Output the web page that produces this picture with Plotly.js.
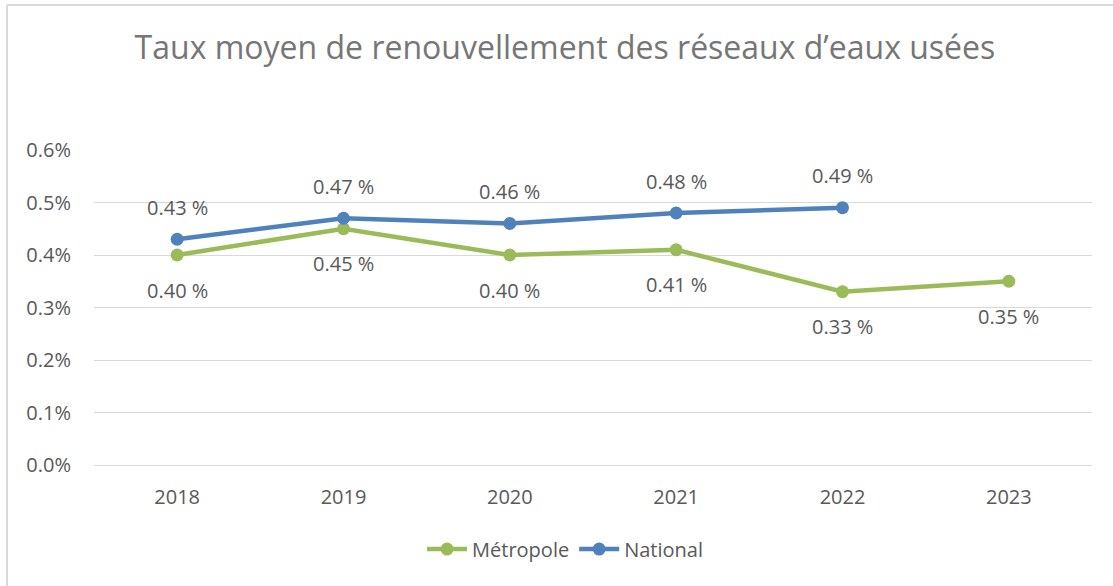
<!DOCTYPE html>
<html>
<head>
<meta charset="utf-8">
<script src="https://cdn.plot.ly/plotly-3.0.1.min.js"></script>
<style>
  html, body { margin: 0; padding: 0; background: #fff; }
  #chart { width: 1113px; height: 586px; }
</style>
</head>
<body>
<div id="chart"></div>
<script>
const years = ['2018', '2019', '2020', '2021', '2022', '2023'];
const metropole = [0.40, 0.45, 0.40, 0.41, 0.33, 0.35];
const national = [0.43, 0.47, 0.46, 0.48, 0.49, null];
const metropoleLabels = ['0.40 %', '0.45 %', '0.40 %', '0.41 %', '0.33 %', '0.35 %'];
const nationalLabels = ['0.43 %', '0.47 %', '0.46 %', '0.48 %', '0.49 %', null];
const yTicks = [0, 0.1, 0.2, 0.3, 0.4, 0.5, 0.6];

const GREEN = '#9BBB59';
const BLUE = '#4F81BD';
const FONT = 'Open Sans, DejaVu Sans, sans-serif';

const traces = [
  {
    x: years, y: metropole, name: 'Métropole', type: 'scatter', mode: 'lines+markers',
    line: { color: GREEN, width: 4.5 }, marker: { color: GREEN, size: 13 },
    hoverinfo: 'skip'
  },
  {
    x: years, y: national, name: 'National', type: 'scatter', mode: 'lines+markers',
    line: { color: BLUE, width: 4.5 }, marker: { color: BLUE, size: 13 },
    connectgaps: false, hoverinfo: 'skip'
  }
];

// annotation x positions: category serial numbers on the category axis
const annotations = [];
years.forEach((yr, i) => {
  if (metropole[i] != null) {
    annotations.push({ x: i, y: metropole[i], xref: 'x', yref: 'y', text: metropoleLabels[i],
      showarrow: false, yshift: -35, yanchor: 'middle', xanchor: 'center',
      font: { family: FONT, size: 20, color: '#595959' } });
  }
  if (national[i] != null) {
    annotations.push({ x: i, y: national[i], xref: 'x', yref: 'y', text: nationalLabels[i],
      showarrow: false, yshift: 32, yanchor: 'middle', xanchor: 'center',
      font: { family: FONT, size: 20, color: '#595959' } });
  }
});

const layout = {
  width: 1113, height: 586,
  margin: { l: 94, r: 21, t: 150, b: 121 },
  paper_bgcolor: '#ffffff', plot_bgcolor: '#ffffff',
  font: { family: FONT, size: 20, color: '#595959' },
  title: {
    text: 'Taux moyen de renouvellement des réseaux d’eaux usées',
    font: { family: FONT, size: 32, color: '#767676' },
    x: 0.5076, xanchor: 'center', xref: 'container',
    y: 0.918, yanchor: 'middle', yref: 'container'
  },
  xaxis: {
    type: 'category', range: [-0.5, years.length - 0.5],
    showgrid: false, showline: true, linecolor: '#d9d9d9', linewidth: 1,
    ticks: '', ticklabelstandoff: 14, zeroline: false, fixedrange: true,
    tickfont: { family: FONT, size: 20, color: '#595959' }
  },
  yaxis: {
    range: [0, 0.6], tickvals: yTicks, ticktext: yTicks.map(v => v.toFixed(1) + '%'),
    showgrid: true, gridcolor: '#d9d9d9', gridwidth: 1, zeroline: false,
    showline: false, ticks: '', ticklabelstandoff: 22, fixedrange: true,
    tickfont: { family: FONT, size: 20, color: '#595959' }
  },
  showlegend: true,
  legend: {
    orientation: 'h', x: 0.472, xanchor: 'center', y: -0.267, yanchor: 'middle',
    font: { family: FONT, size: 20, color: '#595959' },
    traceorder: 'normal', bgcolor: 'rgba(0,0,0,0)', itemwidth: 40
  },
  annotations: annotations,
  shapes: [
    { type: 'line', xref: 'paper', yref: 'paper', x0: -87/998, x1: -87/998, y0: -1, y1: 1 + 145/315,
      line: { color: '#d9d9d9', width: 2 } },
    { type: 'line', xref: 'paper', yref: 'paper', x0: -87/998, x1: 1.1, y0: 1 + 145/315, y1: 1 + 145/315,
      line: { color: '#d9d9d9', width: 2 } }
  ]
};

Plotly.newPlot('chart', traces, layout, { displayModeBar: false, staticPlot: true });
</script>
</body>
</html>
